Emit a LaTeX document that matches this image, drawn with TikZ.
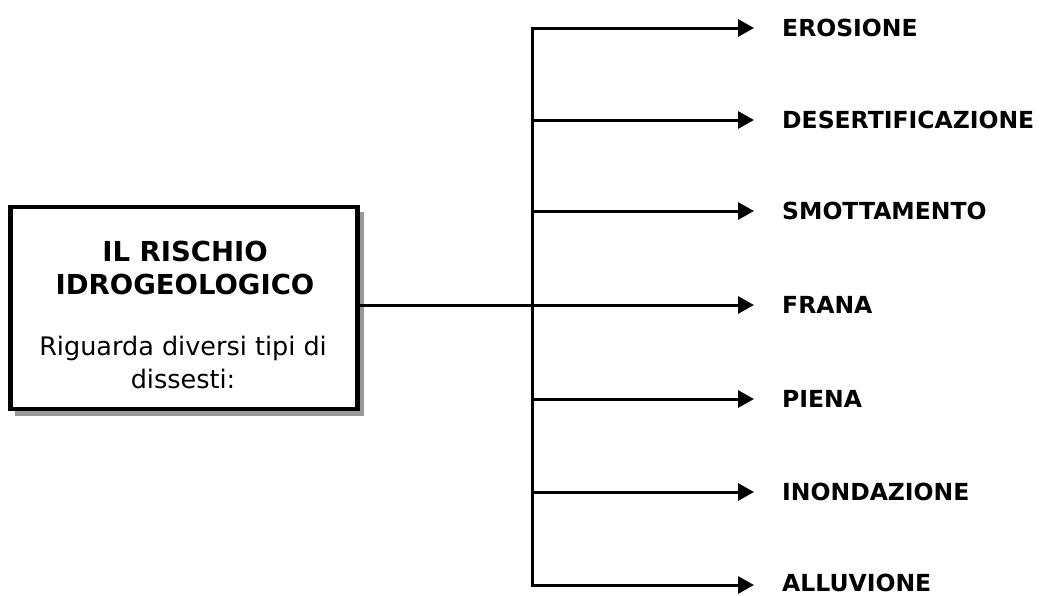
\documentclass[tikz,border=0pt]{standalone}
\usepackage{fontspec}
\setmainfont{DejaVu Sans}
\usetikzlibrary{arrows.meta}
\begin{document}
\begin{tikzpicture}[x=1pt,y=-1pt,
  conn/.style={line width=3pt},
  arr/.style={conn,-{Triangle[length=16pt,width=17pt]},shorten >=28pt},
  lab/.style={anchor=west,inner sep=0pt,font=\fontsize{23.5}{23.5}\selectfont\bfseries,
              text height=16pt,text depth=0pt},
  mainbox/.style={draw,line width=4.5pt,fill=white,minimum width=347pt,minimum height=202pt,
              inner sep=0pt}
]
\useasboundingbox (0,0) rectangle (1053,595);
% drop shadow, then the framed box
\fill[black!40] (15,212) rectangle (364,416);
\node[mainbox] (box) at (184,308) {};
\node[font=\fontsize{27.5}{33}\selectfont\bfseries,align=center] (title) at (185,268)
  {IL RISCHIO\\IDROGEOLOGICO};
\node[font=\fontsize{25.5}{33}\selectfont,align=center] (desc) at (183,362)
  {Riguarda diversi tipi di\\dissesti:};
% outcome labels
\node[lab] (l1) at (782,28) {EROSIONE};
\node[lab] (l2) at (782,120) {DESERTIFICAZIONE};
\node[lab] (l3) at (782,211) {SMOTTAMENTO};
\node[lab] (l4) at (782,305) {FRANA};
\node[lab] (l5) at (782,399) {PIENA};
\node[lab] (l6) at (782,492) {INONDAZIONE};
\node[lab] (l7) at (782,583) {ALLUVIONE};
% vertical bus
\coordinate (b1) at (532,28);
\coordinate (b2) at (532,120);
\coordinate (b3) at (532,211);
\coordinate (b4) at (532,305);
\coordinate (b5) at (532,399);
\coordinate (b6) at (532,492);
\coordinate (b7) at (532,585);
\draw[conn] (box.east |- b4) -- (b4);
\draw[conn,line cap=rect] (b1) -- (b7);
\foreach \i in {1,...,6} \draw[arr] (b\i) -- (l\i.west);
\draw[arr] (b7) -- (l7.west |- b7);
\end{tikzpicture}
\end{document}
